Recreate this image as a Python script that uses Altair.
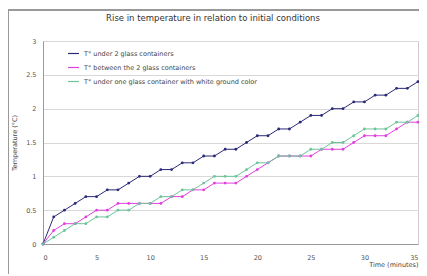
import altair as alt
import pandas as pd

minutes = list(range(0, 36))
s_two = [0, 0.4, 0.5, 0.6, 0.7, 0.7, 0.8, 0.8, 0.9, 1.0, 1.0, 1.1, 1.1, 1.2, 1.2, 1.3, 1.3, 1.4,
         1.4, 1.5, 1.6, 1.6, 1.7, 1.7, 1.8, 1.9, 1.9, 2.0, 2.0, 2.1, 2.1, 2.2, 2.2, 2.3, 2.3, 2.4]
s_between = [0, 0.2, 0.3, 0.3, 0.4, 0.5, 0.5, 0.6, 0.6, 0.6, 0.6, 0.6, 0.7, 0.7, 0.8, 0.8, 0.9, 0.9,
             0.9, 1.0, 1.1, 1.2, 1.3, 1.3, 1.3, 1.3, 1.4, 1.4, 1.4, 1.5, 1.6, 1.6, 1.6, 1.7, 1.8, 1.8]
s_white = [0, 0.1, 0.2, 0.3, 0.3, 0.4, 0.4, 0.5, 0.5, 0.6, 0.6, 0.7, 0.7, 0.8, 0.8, 0.9, 1.0, 1.0,
           1.0, 1.1, 1.2, 1.2, 1.3, 1.3, 1.3, 1.4, 1.4, 1.5, 1.5, 1.6, 1.7, 1.7, 1.7, 1.8, 1.8, 1.9]

names = ["T° under 2 glass containers",
         "T° between the 2 glass containers",
         "T° under one glass container with white ground color"]
colors = ["#2a2a7a", "#e040e0", "#6cc49a"]
title_text = "Rise in temperature in relation to initial conditions"

rows = []
for name, vals in zip(names, [s_two, s_between, s_white]):
    for m, v in zip(minutes, vals):
        rows.append({"Time": m, "Temp": v, "Series": name})
df = pd.DataFrame(rows)

W, H = 375, 203
FONT = "DejaVu Sans"

x = alt.X("Time:Q", title="Time (minutes)",
          scale=alt.Scale(domain=[0, 35], nice=False),
          axis=alt.Axis(values=[0, 5, 10, 15, 20, 25, 30, 35], grid=False,
                        titleAnchor="end", titleAlign="right", titleFontSize=6.5,
                        titleFontWeight="normal", titlePadding=1,
                        labelFontSize=6.5, tickSize=0, labelPadding=10))
y = alt.Y("Temp:Q", title="Temperature (°C)",
          scale=alt.Scale(domain=[0, 3], nice=False),
          axis=alt.Axis(values=[0, 0.5, 1, 1.5, 2, 2.5, 3], grid=True, format="~g",
                        titleFontSize=6.5, titleFontWeight="normal", titlePadding=8,
                        labelFontSize=6.5, tickSize=0, labelPadding=7))
color = alt.Color("Series:N", scale=alt.Scale(domain=names, range=colors),
                  legend=alt.Legend(title=None, orient="none", legendX=24, legendY=6,
                                    labelFontSize=6.5, symbolType="stroke",
                                    symbolSize=120, symbolStrokeWidth=1.2,
                                    rowPadding=4, labelLimit=400, labelColor="#444"))

lines = alt.Chart(df).mark_line(strokeWidth=1, point=alt.OverlayMarkDef(size=8, filled=True)).encode(
    x=x, y=y, color=color)

one = pd.DataFrame({"label": [title_text]})
frame = alt.Chart(one).mark_rect(fill="transparent", stroke="#999999", strokeWidth=2).encode(
    x=alt.value(-35), x2=alt.value(W + 60), y=alt.value(-31), y2=alt.value(H + 80))

title = alt.Chart(one).mark_text(fontSize=8.5, color="#333", font=FONT,
                                 align="center", baseline="middle").encode(
    text="label:N", x=alt.value(170), y=alt.value(-23))

chart = alt.layer(frame, title, lines).properties(
    width=W, height=H,
    autosize=alt.AutoSizeParams(type="none"),
    padding={"left": 35, "top": 33, "right": 1, "bottom": 30},
).configure(font=FONT).configure_axis(
    labelColor="#555", titleColor="#444", domainColor="#999", tickColor="#999",
    gridColor="#d8d8d8", labelFont=FONT, titleFont=FONT
).configure_view(stroke="#cccccc").configure_legend(labelFont=FONT)

chart.save("out.html", embed_options={"renderer": "svg", "actions": False})
